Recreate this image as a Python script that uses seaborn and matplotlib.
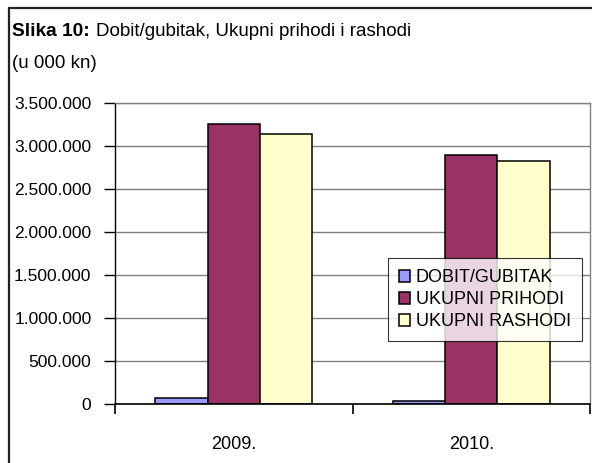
import matplotlib
matplotlib.use("Agg")
import matplotlib.pyplot as plt
import matplotlib.ticker as mticker
from matplotlib.lines import Line2D
import seaborn as sns
import pandas as pd

years = ["2009.", "2010."]
series = ["DOBIT/GUBITAK", "UKUPNI PRIHODI", "UKUPNI RASHODI"]
dobit = [70000, 38000]
prihodi = [3252000, 2899000]
rashodi = [3136000, 2829000]
colors = ["#9999FF", "#993366", "#FFFFCC"]
y_ticks = [0, 500000, 1000000, 1500000, 2000000, 2500000, 3000000, 3500000]

rows = []
for name, vals in zip(series, [dobit, prihodi, rashodi]):
    for yr, v in zip(years, vals):
        rows.append({"year": yr, "series": name, "value": v})
df = pd.DataFrame(rows)

sns.set_style("white")
plt.rcParams["font.family"] = ["Liberation Sans", "DejaVu Sans"]
plt.rcParams["text.color"] = "black"
plt.rcParams["xtick.color"] = "black"
plt.rcParams["ytick.color"] = "black"
plt.rcParams["axes.labelcolor"] = "black"

fig = plt.figure(figsize=(5.92, 4.63), dpi=100)
ax = fig.add_axes([115 / 592, 1 - 404 / 463, 475 / 592, 301 / 463])

sns.barplot(data=df, x="year", y="value", hue="series", order=years,
            hue_order=series, palette=colors, width=0.66, ax=ax,
            edgecolor="black", linewidth=1.1, saturation=1, errorbar=None,
            zorder=3)

ax.set_xlim(-0.5, 1.5)
ax.set_ylim(0, 3500000)
ax.set_yticks(y_ticks)
ax.yaxis.set_major_formatter(mticker.FuncFormatter(
    lambda v, p: f"{int(v):,}".replace(",", ".")))
ax.yaxis.grid(True, color="#808080", linewidth=1, zorder=0)
ax.set_axisbelow(True)
ax.set_xlabel("")
ax.set_ylabel("")

ax.tick_params(axis="y", which="major", length=8, width=1, color="black",
               labelcolor="black", direction="out", pad=9, labelsize=12.5,
               left=True)
ax.tick_params(axis="x", which="major", length=0, pad=23, labelsize=13,
               labelcolor="black")
ax.set_xticks([-0.5, 0.5, 1.5], minor=True)
ax.tick_params(axis="x", which="minor", length=7, width=1.2, color="black",
               direction="out", bottom=True)

for s in ["top", "right"]:
    ax.spines[s].set_color("#808080")
    ax.spines[s].set_linewidth(1)
ax.spines["left"].set_color("black")
ax.spines["left"].set_linewidth(1)
ax.spines["bottom"].set_color("black")
ax.spines["bottom"].set_linewidth(1.2)
ax.spines["bottom"].set_zorder(4)

leg = ax.legend(loc="lower right", bbox_to_anchor=(0.983, 0.209),
                borderaxespad=0, fontsize=13, frameon=True, fancybox=False,
                handlelength=0.6, handleheight=0.6, handletextpad=0.35,
                labelspacing=0.28, borderpad=0.6, edgecolor="black",
                title=None)
leg.get_frame().set_linewidth(0.8)
for t in leg.get_texts():
    t.set_color("black")
leg.set_zorder(10)

# title text
fig.text(12 / 592, 1 - 31 / 463, "Slika 10:", fontsize=13.8, fontweight="bold",
         va="center", ha="left", color="black")
fig.text(96 / 592, 1 - 31 / 463, "Dobit/gubitak, Ukupni prihodi i rashodi",
         fontsize=13.5, va="center", ha="left", color="black")
fig.text(12 / 592, 1 - 63 / 463, "(u 000 kn)", fontsize=13.5,
         va="center", ha="left", color="black")

# outer frame (left and top edges visible)
fig.add_artist(Line2D([9 / 592, 9 / 592], [0, 1 - 8 / 463],
                      transform=fig.transFigure, color="#222222", linewidth=1.6))
fig.add_artist(Line2D([9 / 592, 1], [1 - 8 / 463, 1 - 8 / 463],
                      transform=fig.transFigure, color="#222222", linewidth=1.6))

fig.savefig("out.png", dpi=100)
